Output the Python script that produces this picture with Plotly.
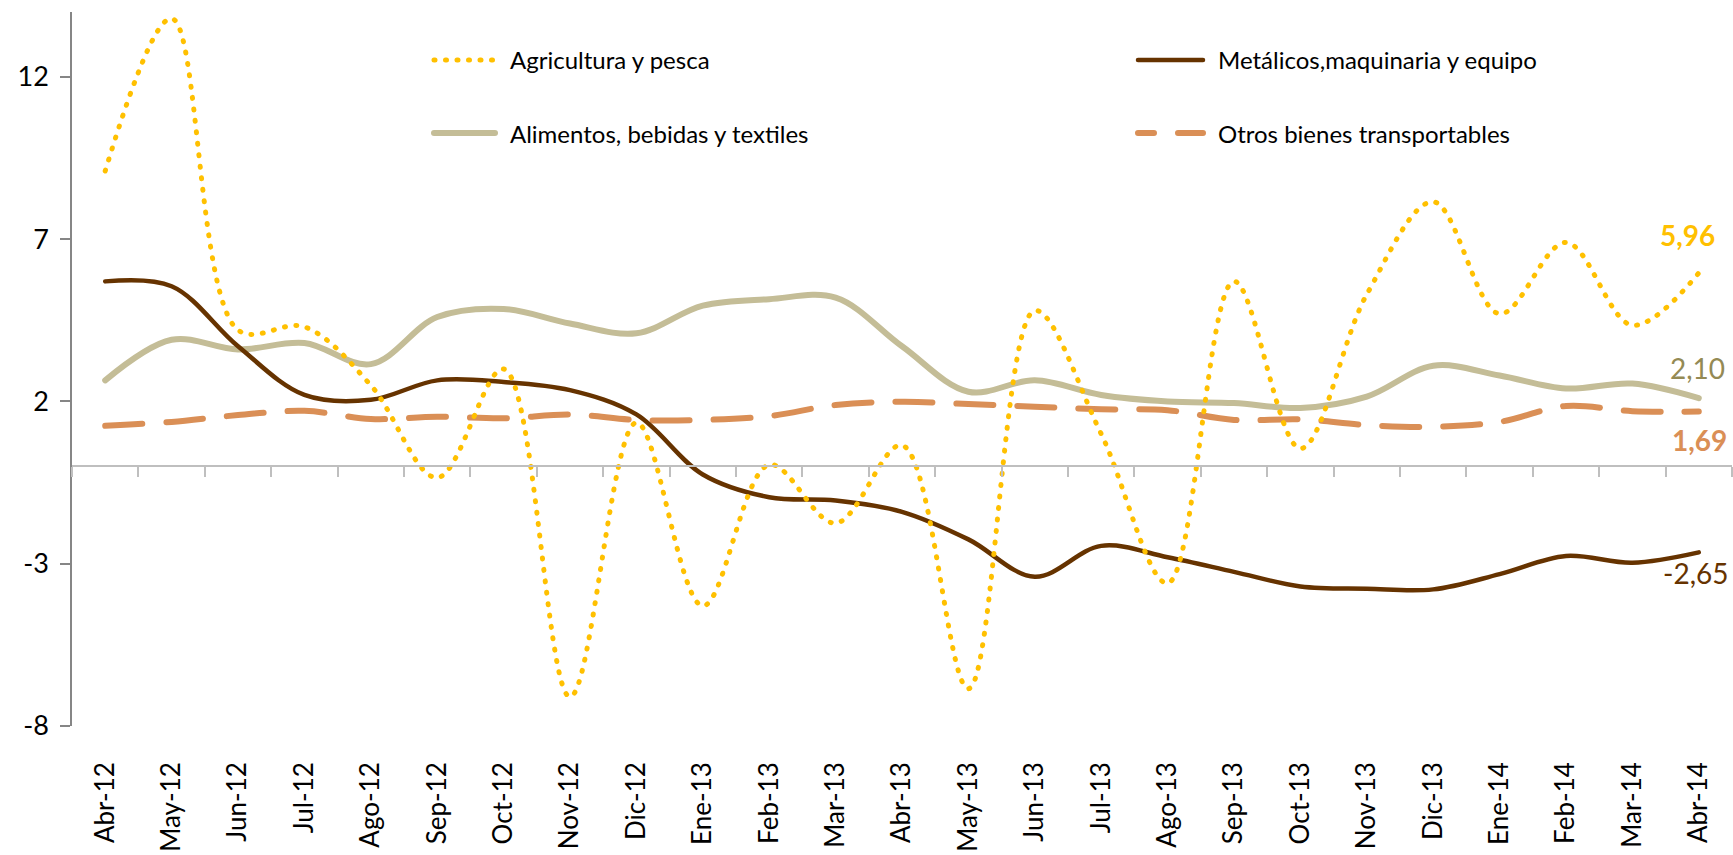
import plotly.graph_objects as go

# Monthly categories
months = ["Abr-12", "May-12", "Jun-12", "Jul-12", "Ago-12", "Sep-12", "Oct-12",
          "Nov-12", "Dic-12", "Ene-13", "Feb-13", "Mar-13", "Abr-13", "May-13",
          "Jun-13", "Jul-13", "Ago-13", "Sep-13", "Oct-13", "Nov-13", "Dic-13",
          "Ene-14", "Feb-14", "Mar-14", "Abr-14"]

# Series values (%)
agricultura = [9.1, 13.8, 4.2, 4.3, 2.5, -0.35, 3.0, -7.1, 1.35, -4.3, 0.05, -1.75,
               0.65, -6.85, 4.8, 1.0, -3.6, 5.7, 0.55, 5.3, 8.15, 4.7, 6.9, 4.35, 5.96]
alimentos = [2.65, 3.9, 3.6, 3.8, 3.15, 4.6, 4.85, 4.4, 4.1, 4.95, 5.15, 5.2,
             3.7, 2.3, 2.65, 2.2, 2.0, 1.95, 1.8, 2.15, 3.1, 2.8, 2.4, 2.55, 2.10]
metalicos = [5.7, 5.55, 3.7, 2.2, 2.05, 2.65, 2.6, 2.35, 1.6, -0.25, -0.95, -1.05,
             -1.4, -2.25, -3.4, -2.45, -2.8, -3.25, -3.7, -3.77, -3.79, -3.32, -2.76, -2.97, -2.65]
otros = [1.25, 1.37, 1.58, 1.71, 1.46, 1.53, 1.48, 1.6, 1.43, 1.43, 1.55, 1.89,
         1.99, 1.92, 1.84, 1.76, 1.73, 1.43, 1.45, 1.27, 1.22, 1.37, 1.86, 1.70, 1.69]

y_ticks = [-8, -3, 2, 7, 12]
y_range = [-8, 14]

names = ["Agricultura y pesca", "Metálicos,maquinaria y equipo",
         "Alimentos, bebidas y textiles", "Otros bienes transportables"]

C_AGR = "#FFC000"
C_ALI = "#C4BD97"
C_MET = "#663300"
C_OTR = "#DA8F56"
C_ALI_TXT = "#948A54"

DOT = "1px,10.5px"
DASH = "37px,24px"

FONT = "Lato, 'Open Sans', sans-serif"

W, H = 1733, 855
ML, MR, MT, MB = 72, 1, 12, 129


def px_x(px):
    return (px - ML) / (W - ML - MR)


def px_y(py):
    return 1 - (py - MT) / (H - MT - MB)


fig = go.Figure()

# Empty trace bound to the zero-line axis so its line and tick marks render
fig.add_trace(go.Scatter(x=months, y=[None] * len(months), xaxis="x2", yaxis="y",
                         mode="lines", showlegend=False, hoverinfo="skip"))

series = [
    (agricultura, names[0], dict(color=C_AGR, width=5, dash=DOT)),
    (alimentos, names[2], dict(color=C_ALI, width=6)),
    (metalicos, names[1], dict(color=C_MET, width=4.5)),
    (otros, names[3], dict(color=C_OTR, width=6, dash=DASH)),
]
# draw order: khaki, dashed, brown, dotted on top
for idx in [1, 3, 2, 0]:
    vals, name, line = series[idx]
    fig.add_trace(go.Scatter(
        x=months, y=vals, name=name, mode="lines",
        line=dict(shape="spline", smoothing=1, **line),
        showlegend=False, hoverinfo="x+y",
    ))

# End-of-series value labels
end_labels = [
    (agricultura[-1], C_AGR, True, 38, -11),
    (alimentos[-1], C_ALI_TXT, False, 30, -1),
    (otros[-1], C_OTR, True, -28, 1),
    (metalicos[-1], C_MET, False, -21, -3),
]
for val, col, bold, ys, xs in end_labels:
    txt = f"{val:.2f}".replace(".", ",")
    if bold:
        txt = f"<b>{txt}</b>"
    fig.add_annotation(x=months[-1], y=val, xref="x", yref="y", text=txt,
                       showarrow=False, yshift=ys, xshift=xs,
                       font=dict(family=FONT, size=28, color=col))

# Legend drawn as line samples plus text, two columns
legend_rows = [
    (names[0], dict(color=C_AGR, width=5, dash=DOT), 431, 498, 60),
    (names[2], dict(color=C_ALI, width=6), 431, 498, 133),
    (names[1], dict(color=C_MET, width=4.5), 1135, 1206, 60),
    (names[3], dict(color=C_OTR, width=6, dash="16px,24px,37px,24px"), 1135, 1206, 133),
]
for name, line, x0, x1, yy in legend_rows:
    fig.add_shape(type="line", xref="paper", yref="paper",
                  x0=px_x(x0 + 3), x1=px_x(x1 - 3), y0=px_y(yy), y1=px_y(yy),
                  line=line, layer="above")
    fig.add_annotation(x=px_x(x1 + 10), y=px_y(yy), xref="paper", yref="paper",
                       text=name, showarrow=False, xanchor="left", yanchor="middle",
                       font=dict(family=FONT, size=24, color="#000000"))

zero_pos = (0 - y_range[0]) / (y_range[1] - y_range[0])

fig.update_layout(
    width=W, height=H,
    margin=dict(l=ML, r=MR, t=MT, b=MB, pad=0),
    paper_bgcolor="white", plot_bgcolor="white",
    font=dict(family=FONT, color="#000000"),
    showlegend=False,
    xaxis=dict(
        type="category", categoryorder="array", categoryarray=months,
        range=[-0.5, len(months) - 0.5],
        showline=False, ticks="", showgrid=False, zeroline=False,
        tickangle=-90, tickfont=dict(family=FONT, size=26, color="#000000"),
        ticklabelstandoff=30,
    ),
    xaxis2=dict(
        type="category", categoryorder="array", categoryarray=months,
        matches="x", overlaying="x", anchor="free", position=zero_pos,
        showline=True, linecolor="#BFBFBF", linewidth=1.5,
        ticks="outside", tickson="boundaries", ticklen=10,
        tickcolor="#BFBFBF", tickwidth=1.5,
        showticklabels=False, showgrid=False, zeroline=False,
    ),
    yaxis=dict(
        range=y_range, tickvals=y_ticks, ticktext=[str(v) for v in y_ticks],
        showline=True, linecolor="#868686", linewidth=1.5,
        ticks="outside", ticklen=10, tickcolor="#868686", tickwidth=1.5,
        showgrid=False, zeroline=False,
        tickfont=dict(family=FONT, size=27, color="#000000"),
        ticklabelstandoff=6,
    ),
)

post = """
var gd = document.getElementById('{plot_id}');
gd.querySelectorAll('.scatterlayer path.js-line, .shapelayer path').forEach(function(p){
    p.style.strokeLinecap = 'round';
});
"""

fig.write_html("out.html", post_script=post)
